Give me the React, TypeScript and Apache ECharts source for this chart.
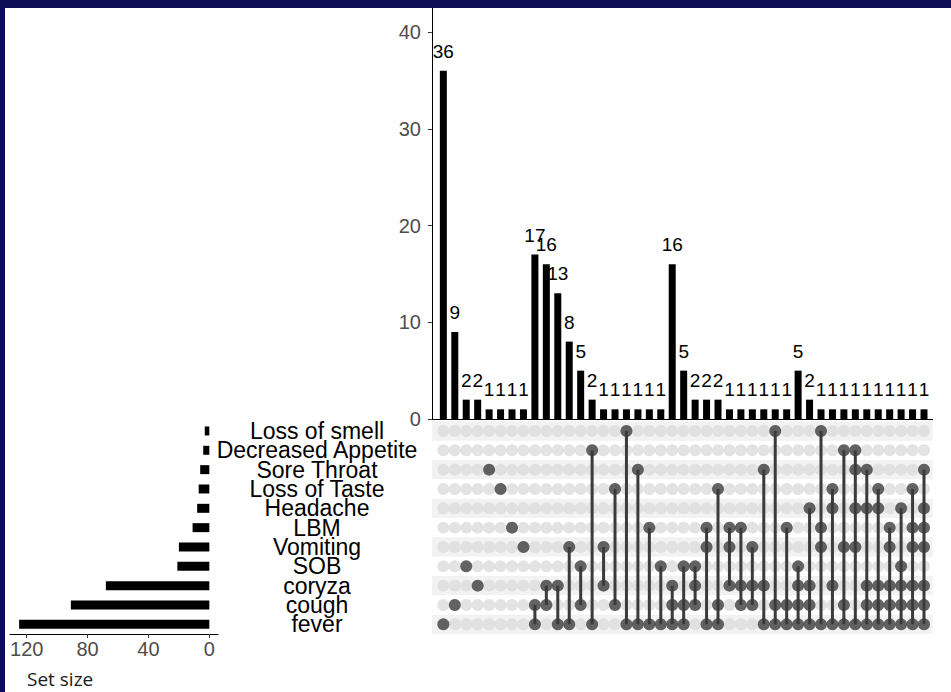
import React, { useEffect, useRef } from "react";
import * as echarts from "echarts";

const setNames = [
  "Loss of smell",
  "Decreased Appetite",
  "Sore Throat",
  "Loss of Taste",
  "Headache",
  "LBM",
  "Vomiting",
  "SOB",
  "coryza",
  "cough",
  "fever",
];
const setSizes = [3, 4, 6, 7, 8, 11, 20, 21, 68, 91, 125];

const intersectionSizes = [
  36, 9, 2, 2, 1, 1, 1, 1,
  17, 16, 13, 8, 5, 2,
  1, 1, 1, 1, 1, 1,
  16, 5, 2, 2, 2,
  1, 1, 1, 1, 1, 1,
  5, 2,
  1, 1, 1, 1, 1, 1, 1, 1, 1, 1,
];

const intersectionMembers: string[][] = [
  ["fever"],
  ["cough"],
  ["SOB"],
  ["coryza"],
  ["Sore Throat"],
  ["Loss of Taste"],
  ["LBM"],
  ["Vomiting"],
  ["cough", "fever"],
  ["coryza", "cough"],
  ["coryza", "fever"],
  ["Vomiting", "fever"],
  ["SOB", "cough"],
  ["Decreased Appetite", "fever"],
  ["Vomiting", "coryza"],
  ["Loss of Taste", "cough"],
  ["Loss of smell", "fever"],
  ["Sore Throat", "fever"],
  ["LBM", "fever"],
  ["SOB", "fever"],
  ["coryza", "cough", "fever"],
  ["SOB", "cough", "fever"],
  ["SOB", "coryza", "cough"],
  ["LBM", "Vomiting", "fever"],
  ["Loss of Taste", "cough", "fever"],
  ["LBM", "Vomiting", "coryza"],
  ["LBM", "coryza", "cough"],
  ["Vomiting", "coryza", "cough"],
  ["Sore Throat", "coryza", "fever"],
  ["Loss of smell", "cough", "fever"],
  ["LBM", "cough", "fever"],
  ["SOB", "coryza", "cough", "fever"],
  ["Headache", "coryza", "cough", "fever"],
  ["Loss of smell", "LBM", "Vomiting", "fever"],
  ["Loss of Taste", "Headache", "coryza", "fever"],
  ["Decreased Appetite", "Vomiting", "cough", "fever"],
  ["Decreased Appetite", "Sore Throat", "Headache", "Vomiting", "fever"],
  ["Sore Throat", "Headache", "coryza", "cough", "fever"],
  ["Loss of Taste", "Headache", "coryza", "cough", "fever"],
  ["LBM", "Vomiting", "coryza", "cough", "fever"],
  ["Headache", "SOB", "coryza", "cough", "fever"],
  ["Loss of Taste", "LBM", "Vomiting", "coryza", "cough", "fever"],
  ["Sore Throat", "Headache", "LBM", "Vomiting", "coryza", "cough", "fever"],
];

const intersectionTicks = [0, 10, 20, 30, 40];
const setSizeTicks = [0, 40, 80, 120];

const FONT = "Arial, Liberation Sans, Helvetica, sans-serif";
const X_MIN = -1;
const X_MAX = 42.76;

export default function App() {
  const ref = useRef<HTMLDivElement>(null);

  useEffect(() => {
    if (!ref.current) return;
    const chart = echarts.init(ref.current, undefined, { renderer: "svg" });

    const filled: number[][] = [];
    const empty: number[][] = [];
    const segs: number[][] = [];
    intersectionMembers.forEach((members, c) => {
      const rows = members.map((m) => setNames.indexOf(m));
      setNames.forEach((_, r) => {
        if (rows.includes(r)) filled.push([c, r]);
        else empty.push([c, r]);
      });
      if (rows.length > 1) segs.push([c, Math.min(...rows), Math.max(...rows)]);
    });
    const stripes = setNames.map((_, r) => [X_MIN, r]).filter((d) => d[1] % 2 === 0);

    const axisLineStyle = { color: "#000", width: 1 };

    chart.setOption({
      animation: false,
      backgroundColor: "transparent",
      textStyle: { fontFamily: FONT },
      title: {
        text: "Set size",
        left: 27,
        top: 669,
        padding: 0,
        textStyle: {
          fontFamily: "Open Sans, Noto Sans, sans-serif",
          fontSize: 19,
          fontWeight: "normal",
          color: "#1a1a1a",
        },
      },
      grid: [
        { left: 431.9, top: 8, width: 500.8, height: 411 },
        { left: 431.9, top: 421.3, width: 500.8, height: 212.7 },
        { left: 10, top: 421.3, width: 208, height: 212.7 },
      ],
      xAxis: [
        {
          gridIndex: 0,
          type: "value",
          min: X_MIN,
          max: X_MAX,
          axisLine: { show: true, onZero: false, lineStyle: axisLineStyle },
          axisTick: { show: false },
          axisLabel: { show: false },
          splitLine: { show: false },
        },
        {
          gridIndex: 1,
          type: "value",
          min: X_MIN,
          max: X_MAX,
          show: false,
          splitLine: { show: false },
        },
        {
          gridIndex: 2,
          type: "value",
          inverse: true,
          min: -5.7,
          max: 131,
          axisLine: { show: true, onZero: false, lineStyle: axisLineStyle },
          axisTick: {
            show: true,
            length: 4,
            customValues: setSizeTicks,
            lineStyle: { color: "#333" },
          },
          axisLabel: {
            customValues: setSizeTicks,
            color: "#4d4d4d",
            fontSize: 20,
            margin: 5,
            fontFamily: FONT,
          },
          splitLine: { show: false },
        },
      ],
      yAxis: [
        {
          gridIndex: 0,
          type: "value",
          min: 0,
          max: 42.5,
          axisLine: { show: true, onZero: false, lineStyle: axisLineStyle },
          axisTick: {
            show: true,
            length: 4,
            customValues: intersectionTicks,
            lineStyle: { color: "#333" },
          },
          axisLabel: {
            customValues: intersectionTicks,
            color: "#4d4d4d",
            fontSize: 20,
            margin: 11,
            fontFamily: FONT,
          },
          splitLine: { show: false },
        },
        {
          gridIndex: 1,
          type: "value",
          min: -0.5,
          max: 10.5,
          inverse: true,
          show: false,
          splitLine: { show: false },
        },
        {
          gridIndex: 2,
          type: "category",
          data: setNames,
          inverse: true,
          position: "right",
          axisLine: { show: false },
          axisTick: { show: false },
          axisLabel: {
            interval: 0,
            align: "center",
            margin: 99,
            fontSize: 23,
            color: "#000",
            fontFamily: FONT,
            lineHeight: 19,
          },
        },
      ],
      series: [
        {
          type: "bar",
          xAxisIndex: 0,
          yAxisIndex: 0,
          data: intersectionSizes.map((v, i) => [i, v]),
          barWidth: 7,
          itemStyle: { color: "#000" },
          label: {
            show: true,
            position: "top",
            distance: 10,
            fontSize: 19,
            color: "#000",
            fontFamily: FONT,
            formatter: (p: any) => String(p.value[1]),
          },
        },
        {
          type: "custom",
          xAxisIndex: 1,
          yAxisIndex: 1,
          data: stripes,
          silent: true,
          z: 1,
          renderItem: (_params: any, api: any) => {
            const r = api.value(1);
            const p1 = api.coord([X_MIN, r - 0.5]);
            const p2 = api.coord([X_MAX, r + 0.5]);
            return {
              type: "rect",
              shape: {
                x: p1[0],
                y: Math.min(p1[1], p2[1]),
                width: p2[0] - p1[0],
                height: Math.abs(p2[1] - p1[1]),
              },
              style: { fill: "#f2f2f2" },
            };
          },
        },
        {
          type: "scatter",
          xAxisIndex: 1,
          yAxisIndex: 1,
          data: empty,
          symbolSize: 12,
          z: 2,
          itemStyle: { color: "#dcdcdc" },
          silent: true,
        },
        {
          type: "custom",
          xAxisIndex: 1,
          yAxisIndex: 1,
          data: segs,
          silent: true,
          z: 3,
          renderItem: (_params: any, api: any) => {
            const c = api.value(0);
            const p1 = api.coord([c, api.value(1)]);
            const p2 = api.coord([c, api.value(2)]);
            return {
              type: "line",
              shape: { x1: p1[0], y1: p1[1], x2: p2[0], y2: p2[1] },
              style: { stroke: "#3b3b3b", lineWidth: 3 },
            };
          },
        },
        {
          type: "scatter",
          xAxisIndex: 1,
          yAxisIndex: 1,
          data: filled,
          symbolSize: 12,
          z: 4,
          itemStyle: { color: "#3b3b3b" },
          silent: true,
        },
        {
          type: "bar",
          xAxisIndex: 2,
          yAxisIndex: 2,
          data: setSizes,
          barWidth: 9,
          itemStyle: { color: "#000" },
        },
      ],
    });

    return () => chart.dispose();
  }, []);

  return (
    <div
      style={{
        position: "absolute",
        left: 0,
        top: 0,
        width: 951,
        height: 692,
        background: "#0d0d55",
        overflow: "hidden",
      }}
    >
      <div
        style={{
          position: "absolute",
          left: 5,
          top: 8,
          right: 0,
          bottom: 0,
          background: "#ffffff",
        }}
      />
      <div
        ref={ref}
        style={{ position: "absolute", left: 0, top: 0, width: 951, height: 692 }}
      />
    </div>
  );
}
